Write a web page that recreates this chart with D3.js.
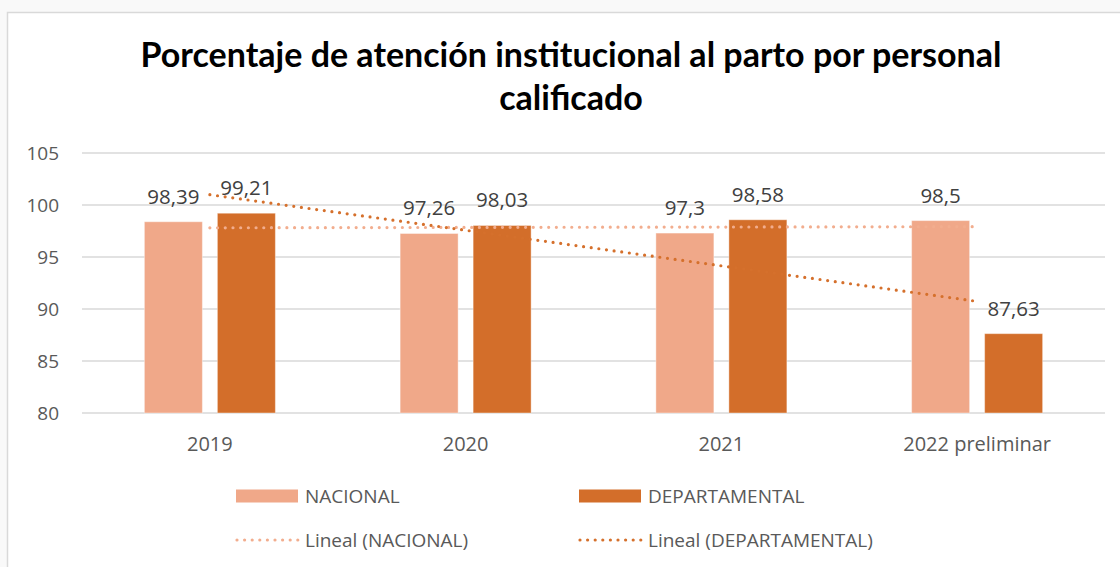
<!DOCTYPE html>
<html>
<head>
<meta charset="utf-8">
<script src="https://d3js.org/d3.v7.min.js"></script>
<style>
  body { margin: 0; background: #f9f9f9; }
  text { font-family: "Open Sans", sans-serif; fill: #595959; }
  .title { font-family: Lato, "Open Sans", sans-serif; font-weight: bold; fill: #000; }
</style>
</head>
<body>
<div id="chart"></div>
<script>
// data
var years = ["2019", "2020", "2021", "2022 preliminar"];
var nacional = [98.39, 97.26, 97.3, 98.5];
var departamental = [99.21, 98.03, 98.58, 87.63];
var seriesNames = ["NACIONAL", "DEPARTAMENTAL"];
var yTicks = [80, 85, 90, 95, 100, 105];

var colors = { NACIONAL: "#f0a889", DEPARTAMENTAL: "#d36e2a" };
var trendColors = { NACIONAL: "#f2ad8e", DEPARTAMENTAL: "#d5702c" };

var W = 1120, H = 567;
var plot = { left: 82, right: 1105, top: 153, bottom: 413 };

var svg = d3.select("#chart").append("svg")
    .attr("width", W).attr("height", H);

// chart frame
svg.append("rect")
    .attr("x", 7.5).attr("y", 12.5)
    .attr("width", 1300).attr("height", 700)
    .attr("fill", "#fff")
    .attr("stroke", "#d9d9d9").attr("stroke-width", 1.5);

// title
var title = svg.append("text").attr("class", "title")
    .attr("text-anchor", "middle")
    .style("font-size", "34px");
title.append("tspan").attr("x", 571).attr("y", 67)
    .text("Porcentaje de atención institucional al parto por personal");
title.append("tspan").attr("x", 571).attr("y", 110)
    .text("calificado");

var y = d3.scaleLinear().domain([80, 105]).range([plot.bottom, plot.top]);
var x0 = d3.scaleBand().domain(years).range([plot.left, plot.right]);
var x1 = d3.scaleBand().domain(seriesNames).range([0, 131]).paddingInner(15 / 73);
var groupOffset = (x0.bandwidth() - 131) / 2;

// gridlines
svg.append("g").selectAll("line")
    .data(yTicks)
    .join("line")
    .attr("x1", plot.left).attr("x2", plot.right)
    .attr("y1", d => y(d)).attr("y2", d => y(d))
    .attr("stroke", "#d9d9d9").attr("stroke-width", 1.5);

// y labels
svg.append("g").selectAll("text")
    .data(yTicks)
    .join("text")
    .attr("x", 59).attr("y", d => y(d))
    .attr("dy", "0.36em")
    .attr("text-anchor", "end")
    .style("font-size", "19px")
    .text(d => d);

// x labels
svg.append("g").selectAll("text")
    .data(years)
    .join("text")
    .attr("x", d => x0(d) + x0.bandwidth() / 2)
    .attr("y", 451)
    .attr("text-anchor", "middle")
    .style("font-size", "20px")
    .text(d => d);

var rows = [];
years.forEach(function(yr, i) {
  rows.push({ year: yr, s: "NACIONAL", v: nacional[i] });
  rows.push({ year: yr, s: "DEPARTAMENTAL", v: departamental[i] });
});

// bars
svg.append("g").selectAll("rect")
    .data(rows)
    .join("rect")
    .attr("x", d => x0(d.year) + groupOffset + x1(d.s))
    .attr("y", d => y(d.v))
    .attr("width", x1.bandwidth())
    .attr("height", d => y(80) - y(d.v))
    .attr("fill", d => colors[d.s])
    .attr("stroke", "#fff").attr("stroke-opacity", 0.4).attr("stroke-width", 1);

// data labels
svg.append("g").selectAll("text")
    .data(rows)
    .join("text")
    .attr("x", d => x0(d.year) + groupOffset + x1(d.s) + x1.bandwidth() / 2)
    .attr("y", d => y(d.v) - 18)
    .attr("text-anchor", "middle")
    .style("font-size", "20.5px")
    .style("fill", "#404040")
    .text(d => String(d.v).replace(".", ","));

// linear trend lines (least squares over category index)
function fit(vals) {
  var n = vals.length, mx = (n + 1) / 2, my = d3.mean(vals);
  var num = 0, den = 0;
  vals.forEach(function(v, i) { num += (i + 1 - mx) * (v - my); den += (i + 1 - mx) * (i + 1 - mx); });
  var b = num / den, a = my - b * mx;
  return function(t) { return a + b * t; };
}
var trends = [
  { s: "NACIONAL", f: fit(nacional) },
  { s: "DEPARTAMENTAL", f: fit(departamental) }
];
var cx = d => x0(d) + x0.bandwidth() / 2;
svg.append("g").selectAll("line")
    .data(trends)
    .join("line")
    .attr("x1", cx(years[0])).attr("x2", cx(years[years.length - 1]))
    .attr("y1", d => y(d.f(1)))
    .attr("y2", d => y(d.f(years.length)))
    .attr("stroke", d => trendColors[d.s])
    .attr("stroke-width", 3.2)
    .attr("stroke-linecap", "round")
    .attr("stroke-dasharray", "0 7.7");

// legend
var legend = [
  { label: "NACIONAL", s: "NACIONAL", type: "bar", x: 236, y: 496 },
  { label: "DEPARTAMENTAL", s: "DEPARTAMENTAL", type: "bar", x: 579, y: 496 },
  { label: "Lineal (NACIONAL)", s: "NACIONAL", type: "line", x: 236, y: 540 },
  { label: "Lineal (DEPARTAMENTAL)", s: "DEPARTAMENTAL", type: "line", x: 579, y: 540 }
];
var lg = svg.append("g").selectAll("g")
    .data(legend)
    .join("g")
    .attr("transform", d => "translate(" + d.x + "," + d.y + ")");
lg.filter(d => d.type === "bar").append("rect")
    .attr("x", 0).attr("y", -6.5).attr("width", 62).attr("height", 13)
    .attr("fill", d => colors[d.s]);
lg.filter(d => d.type === "line").append("line")
    .attr("x1", 1).attr("x2", 62).attr("y1", 0).attr("y2", 0)
    .attr("stroke", d => trendColors[d.s])
    .attr("stroke-width", 3.2)
    .attr("stroke-linecap", "round")
    .attr("stroke-dasharray", "0 7.6");
lg.append("text")
    .attr("x", 69).attr("y", 0).attr("dy", "0.36em")
    .style("font-size", "19px")
    .text(d => d.label);
</script>
</body>
</html>
